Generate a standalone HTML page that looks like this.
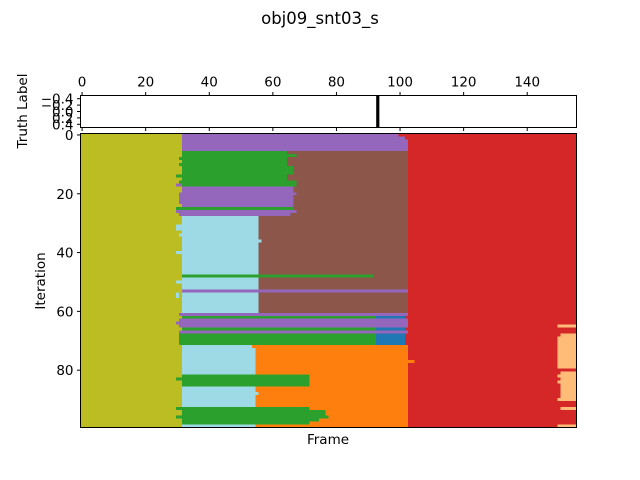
<!DOCTYPE html>
<html><head><meta charset="utf-8">
<style>
html,body{margin:0;padding:0;background:#fff;}
svg{display:block;font-family:"DejaVu Sans","Liberation Sans",sans-serif;}
</style></head>
<body>
<svg id="chart" width="640" height="480" viewBox="0 0 640 480">
<rect width="640" height="480" fill="#fff"/>
<text x="320" y="24" font-size="16.5" text-anchor="middle">obj09_snt03_s</text>
<g id="heat"></g>
<g id="strip"></g>
<g id="axes"></g>
<text x="0" y="0" font-size="13.5" text-anchor="middle" transform="translate(27,111) rotate(-90)">Truth Label</text>
<text x="0" y="0" font-size="13.5" text-anchor="middle" transform="translate(45,281) rotate(-90)">Iteration</text>
<text x="328" y="444" font-size="13.5" text-anchor="middle">Frame</text>
</svg>
<script>
// ---- data ----
var nFrames = 156;
var nIters = 100;
var xTicks = [0,20,40,60,80,100,120,140];
var yTicks = [0,20,40,60,80];
var stripTicks = [-0.4,-0.2,0.0,0.2,0.4];
var stripTickLabels = ["\u22120.4","\u22120.2","0.0","0.2","0.4"];
var truthFrames = [93];
var palette = {olive:"#bcbd22",red:"#d62728",purple:"#9467bd",green:"#2ca02c",brown:"#8c564b",lightblue:"#9edae5",orange:"#ff7f0e",blue:"#1f77b4",lightorange:"#ffbb78"};
// segments: [frameStart, frameEnd, iterStart, iterEnd, label] (inclusive)
var segFrameStart = [], segFrameEnd = [], segIterStart = [], segIterEnd = [], segLabel = [];
var segments = [
[0,31,0,99,"olive"],[103,155,0,99,"red"],[32,102,0,5,"purple"],[100,102,0,0,"red"],[102,102,1,1,"red"],
[32,102,6,71,"brown"],[32,55,28,71,"lightblue"],
[32,64,6,17,"green"],[65,67,7,7,"green"],[65,66,11,13,"green"],[65,67,16,17,"green"],
[31,31,8,8,"green"],[31,31,10,10,"green"],[30,31,14,14,"green"],[31,31,16,16,"green"],
[32,66,18,24,"purple"],[67,67,20,20,"purple"],[30,31,17,17,"purple"],[31,31,20,23,"purple"],
[30,66,25,25,"green"],[30,67,26,26,"purple"],[31,65,27,27,"purple"],
[30,31,31,32,"lightblue"],[31,31,34,34,"lightblue"],[56,56,36,36,"lightblue"],[30,31,40,40,"lightblue"],
[32,91,48,48,"green"],[30,31,50,50,"lightblue"],[32,102,53,53,"purple"],[30,30,54,55,"lightblue"],
[31,102,61,61,"purple"],[32,92,62,62,"green"],[93,101,62,62,"blue"],[102,102,62,62,"red"],
[31,102,63,65,"purple"],[30,30,64,64,"purple"],
[32,92,66,66,"green"],[93,101,66,66,"blue"],[102,102,66,66,"red"],
[31,102,67,67,"purple"],
[31,92,68,71,"green"],[93,101,68,71,"blue"],[102,102,68,71,"red"],
[32,54,72,99,"lightblue"],[55,102,72,99,"orange"],[54,54,72,72,"orange"],[103,104,77,77,"orange"],[55,55,88,88,"lightblue"],
[32,71,82,85,"green"],[30,31,83,83,"green"],
[32,71,93,98,"green"],[72,76,94,95,"green"],[72,77,96,96,"green"],[72,74,97,97,"green"],[30,31,93,93,"green"],[30,31,96,96,"green"],
[150,155,65,65,"lightorange"],[151,155,68,68,"lightorange"],[150,155,69,79,"lightorange"],[151,155,81,83,"lightorange"],
[150,150,82,82,"lightorange"],[151,155,84,90,"lightorange"],[150,150,84,84,"lightorange"],[150,150,90,90,"lightorange"],
[151,155,93,93,"lightorange"],[150,155,99,99,"lightorange"]
];
segments.forEach(function(s){segFrameStart.push(s[0]);segFrameEnd.push(s[1]);segIterStart.push(s[2]);segIterEnd.push(s[3]);segLabel.push(s[4]);});

// ---- layout ----
var NS = "http://www.w3.org/2000/svg";
var L = 80.5, R = 576.5, T = 133.5, B = 427.5;
var ST = 95.5, SB = 127.5;
function xEdge(f){ return L + (f / nFrames) * (R - L); }
function xCenter(f){ return xEdge(f + 0.5); }
function yEdge(i){ return T + (i / nIters) * (B - T); }
function yCenter(i){ return yEdge(i + 0.5); }
function yStrip(v){ return ST + (v + 0.5) * (SB - ST); }
function mk(tag, attrs, parent){ var e = document.createElementNS(NS, tag); for (var k in attrs) e.setAttribute(k, attrs[k]); parent.appendChild(e); return e; }

var heat = document.getElementById("heat");
for (var n = 0; n < segFrameStart.length; n++) {
  var x0 = xEdge(segFrameStart[n]), x1 = xEdge(segFrameEnd[n] + 1);
  var y0 = yEdge(segIterStart[n]), y1 = yEdge(segIterEnd[n] + 1);
  var r = mk("rect", {x:x0, y:y0, width:x1-x0, height:y1-y0, fill:palette[segLabel[n]], "shape-rendering":"crispEdges"}, heat);
  
  
}

var strip = document.getElementById("strip");
var sb = mk("rect", {x:L, y:ST, width:R-L, height:SB-ST, fill:"#fff"}, strip);


truthFrames.forEach(function(f){
  var t = mk("rect", {x:xEdge(f), y:ST, width:xEdge(f+1)-xEdge(f), height:SB-ST, fill:"#000"}, strip);
  
  
});

var axes = document.getElementById("axes");
var f1 = mk("rect", {x:L, y:ST, width:R-L, height:SB-ST, fill:"none", stroke:"#000", "stroke-width":1}, axes);


var f2 = mk("rect", {x:L, y:T, width:R-L, height:B-T, fill:"none", stroke:"#000", "stroke-width":1}, axes);



xTicks.forEach(function(v){
  var x = xCenter(v);
  var a = mk("line", {x1:x, x2:x, y1:ST, y2:ST-3.5, stroke:"#000"}, axes);
  
  
  var b = mk("line", {x1:x, x2:x, y1:SB, y2:SB+3.5, stroke:"#000"}, axes);
  
  
  var t = mk("text", {x:x, y:ST-9, "font-size":13.5, "text-anchor":"middle"}, axes);
  t.textContent = v;
  
  
});
yTicks.forEach(function(v){
  var y = yCenter(v);
  var a = mk("line", {x1:L, x2:L-3.5, y1:y, y2:y, stroke:"#000"}, axes);
  
  
  var t = mk("text", {x:L-7, y:y+5, "font-size":13.5, "text-anchor":"end"}, axes);
  t.textContent = v;
  
  
});
stripTicks.forEach(function(v, k){
  var y = yStrip(v);
  var a = mk("line", {x1:L, x2:L-3.5, y1:y, y2:y, stroke:"#000"}, axes);
  
  
  var t = mk("text", {x:L-7, y:y+5, "font-size":13.5, "text-anchor":"end"}, axes);
  t.textContent = stripTickLabels[k];
  
  
});
</script>
</body></html>
